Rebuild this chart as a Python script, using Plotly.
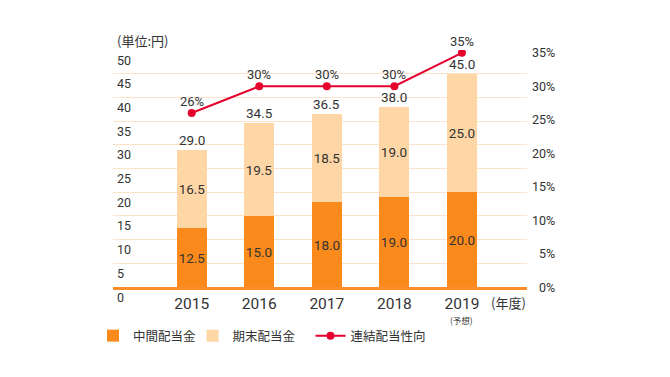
import plotly.graph_objects as go

years = ["2015", "2016", "2017", "2018", "2019"]
interim = [12.5, 15.0, 18.0, 19.0, 20.0]
year_end = [16.5, 19.5, 18.5, 19.0, 25.0]
totals = [29.0, 34.5, 36.5, 38.0, 45.0]
payout = [26, 30, 30, 30, 35]
left_ticks = [0, 5, 10, 15, 20, 25, 30, 35, 40, 45, 50]
right_ticks = [0, 5, 10, 15, 20, 25, 30, 35]

C_DARK = "#FA8A1B"
C_LIGHT = "#FFD6A6"
C_RED = "#E5002D"
C_GRID = "#FDE2C8"
C_TEXT = "#333333"
NUM_FONT = "Roboto, 'Noto Sans CJK JP', sans-serif"
JP_FONT = "'Noto Sans CJK JP', Roboto, sans-serif"

# page body has an 8px default margin: figure is sized to fill the rest
W, H = 662, 369

x = list(range(len(years)))

fig = go.Figure()
fig.add_trace(go.Bar(
    x=x, y=interim, name="中間配当金", legend="legend",
    marker=dict(color=C_DARK, line=dict(width=0)),
    width=0.445, text=[f"{v:.1f}" for v in interim], textposition="inside",
    insidetextanchor="middle", constraintext="none", textangle=0,
    textfont=dict(color=C_TEXT, size=13.5, family=NUM_FONT),
))
fig.add_trace(go.Bar(
    x=x, y=year_end, name="期末配当金", legend="legend2",
    marker=dict(color=C_LIGHT, line=dict(width=0)),
    width=0.445, text=[f"{v:.1f}" for v in year_end], textposition="inside",
    insidetextanchor="middle", constraintext="none", textangle=0,
    textfont=dict(color=C_TEXT, size=13.5, family=NUM_FONT),
))
fig.add_trace(go.Scatter(
    x=x, y=payout, name="連結配当性向", yaxis="y2", mode="lines+markers", legend="legend3",
    line=dict(color=C_RED, width=2), marker=dict(color=C_RED, size=8),
))

ann = []
for i, t in enumerate(totals):
    ann.append(dict(x=i, y=t, xref="x", yref="y", text=f"{t:.1f}", showarrow=False,
                    yanchor="bottom", yshift=0,
                    font=dict(size=13.5, color=C_TEXT, family=NUM_FONT)))
for i, p in enumerate(payout):
    ann.append(dict(x=i, y=p, xref="x", yref="y2", text=f"{p}%", showarrow=False,
                    yanchor="bottom", yshift=2,
                    font=dict(size=13, color=C_TEXT, family=NUM_FONT)))
for v in left_ticks:
    ann.append(dict(x=0.004, y=v, xref="paper", yref="y", text=str(v), showarrow=False,
                    xanchor="left", yanchor="middle", yshift=-10,
                    font=dict(size=12.5, color=C_TEXT, family=NUM_FONT)))
for v in right_ticks:
    ann.append(dict(x=1.0725, y=v, xref="paper", yref="y2", text=f"{v}%", showarrow=False,
                    xanchor="right", yanchor="middle",
                    font=dict(size=12.5, color=C_TEXT, family=NUM_FONT)))
ann.append(dict(x=0.004, y=1, xref="paper", yref="paper", text="(単位:円)", showarrow=False,
                xanchor="left", yanchor="middle", yshift=10,
                font=dict(size=13, color=C_TEXT, family=JP_FONT)))
ann.append(dict(x=0.955, y=0, xref="paper", yref="paper", text="(年度)", showarrow=False,
                xanchor="center", yanchor="middle", yshift=-15,
                font=dict(size=13, color=C_TEXT, family=JP_FONT)))
ann.append(dict(x=4, y=0, xref="x", yref="y", text="(予想)", showarrow=False,
                xanchor="center", yanchor="middle", yshift=-33, borderpad=0,
                font=dict(size=8.5, color=C_TEXT, family=JP_FONT)))


def legend_at(px):
    return dict(orientation="h", xref="container", yref="container",
                x=px / W, xanchor="left", y=1 - 328 / H, yanchor="middle",
                font=dict(size=12.5, color=C_TEXT, family=JP_FONT),
                bgcolor="rgba(0,0,0,0)")


fig.update_layout(
    width=W, height=H,
    margin=dict(l=105, r=143, t=41.5, b=90, pad=0, autoexpand=False),
    paper_bgcolor="white", plot_bgcolor="white",
    barmode="stack", bargap=0,
    showlegend=True,
    legend=legend_at(85),
    legend2=legend_at(184.5),
    legend3=legend_at(302.5),
    xaxis=dict(range=[-1.165, 4.963], tickvals=x, ticktext=years, showgrid=False,
               zeroline=False, showline=True, linecolor="#F98E2A", linewidth=2.5,
               ticks="", ticklen=0, ticklabelstandoff=1,
               tickfont=dict(size=15.5, color=C_TEXT, family=NUM_FONT)),
    yaxis=dict(range=[0, 50], tickvals=left_ticks, showticklabels=False, showgrid=True,
               gridcolor=C_GRID, gridwidth=1, zeroline=False, ticks="", showline=False),
    yaxis2=dict(range=[0, 35.42], overlaying="y", side="right", showticklabels=False,
                showgrid=False, zeroline=False, ticks="", showline=False),
    annotations=ann,
)

fig.write_html("out.html")
